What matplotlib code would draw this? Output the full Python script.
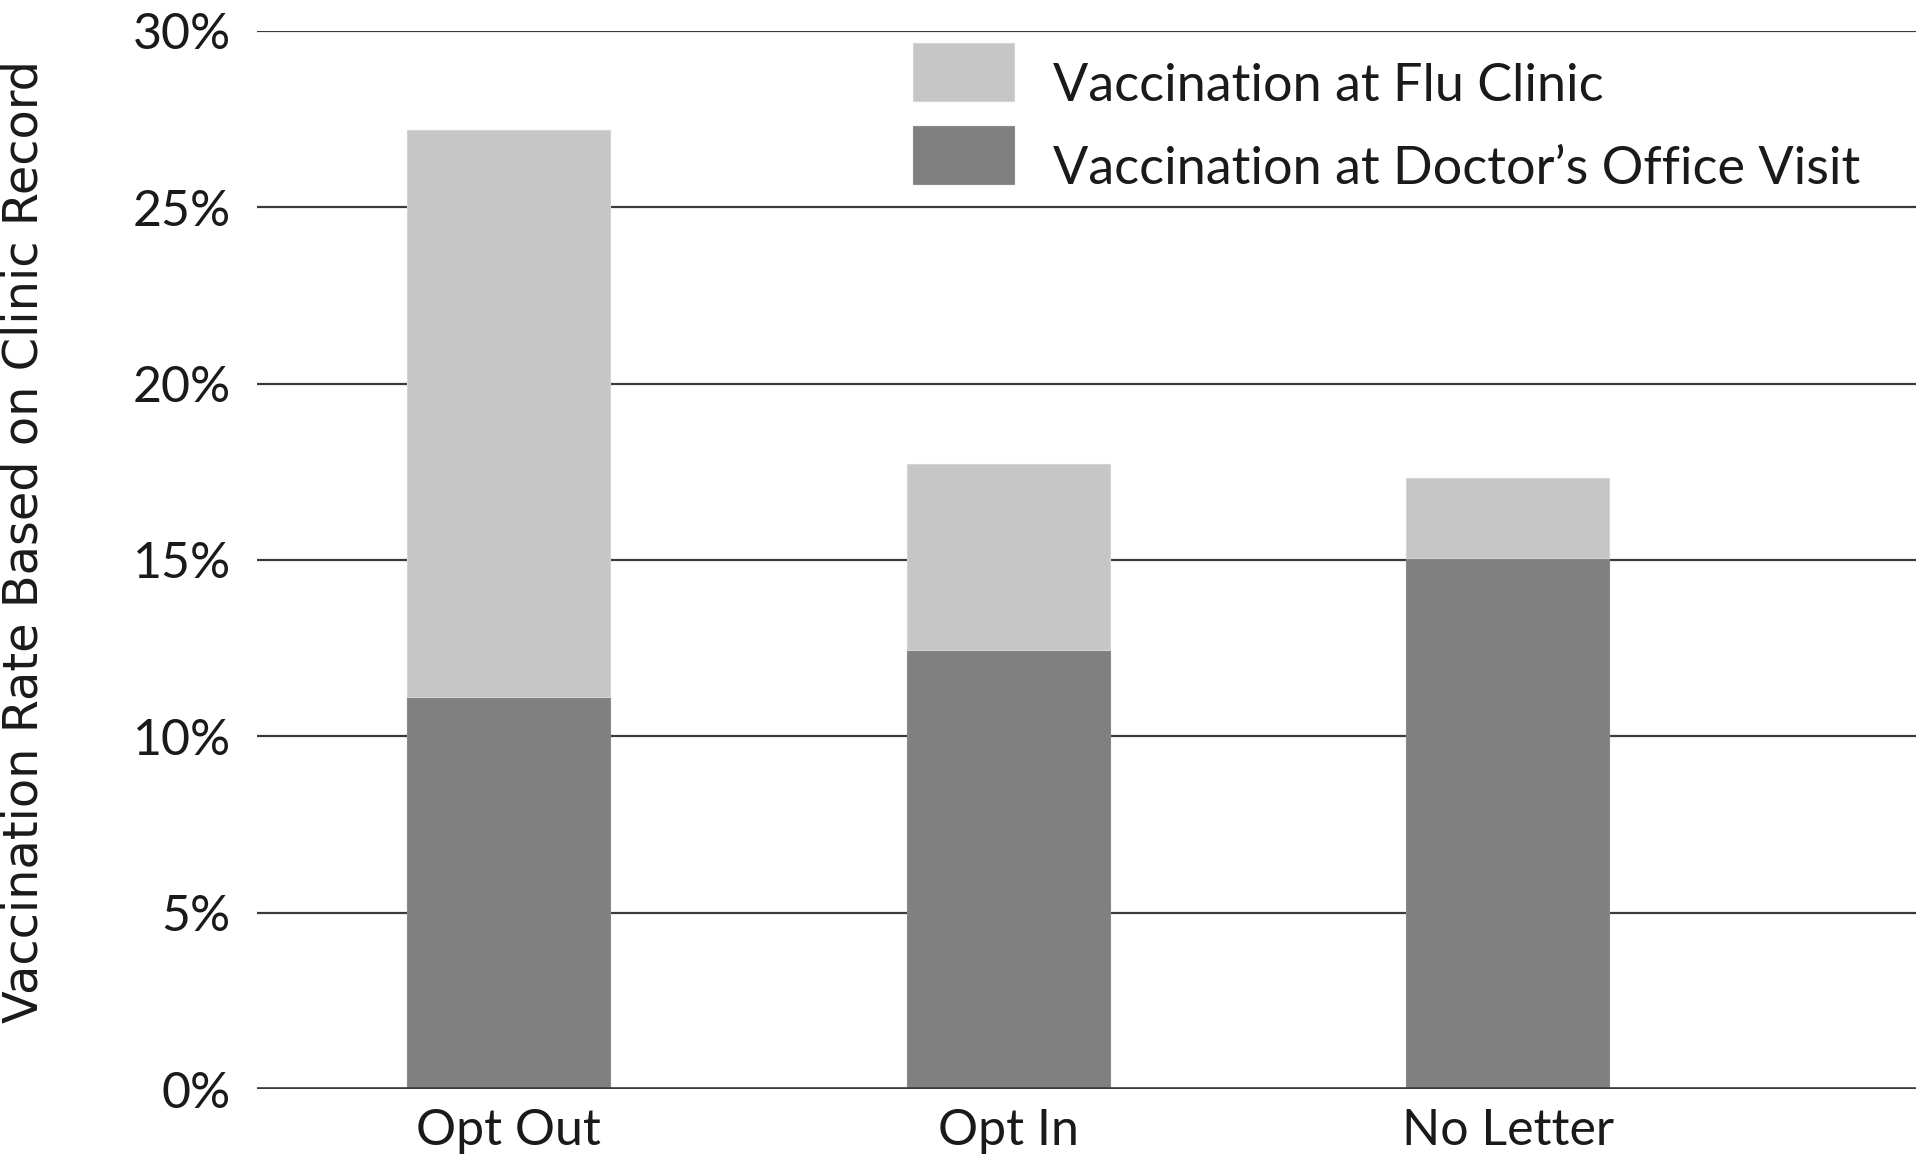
import matplotlib
matplotlib.use("Agg")
import matplotlib.pyplot as plt
from matplotlib.ticker import FuncFormatter
from matplotlib.patches import Rectangle
from matplotlib.container import BarContainer
from matplotlib.legend_handler import HandlerPatch

categories = ["Opt Out", "Opt In", "No Letter"]
doctor_office = [11.1, 12.45, 15.05]
flu_clinic = [16.1, 5.27, 2.27]
yticks = [0, 5, 10, 15, 20, 25, 30]

light = "#c6c6c6"
dark = "#808080"
grid_c = "#3a3a3a"
txt_c = "#1a1a1a"

plt.rcParams["font.family"] = ["Lato", "DejaVu Sans"]

fig = plt.figure(figsize=(19.2, 11.63), dpi=100)
ax = fig.add_axes([0.1339, 0.0636, 0.998 - 0.1339, 0.9735 - 0.0636])

x = list(range(len(categories)))
w = 0.406
ax.bar(x, doctor_office, width=w, color=dark, edgecolor="#8a8a8a", linewidth=0.8,
       label="Vaccination at Doctor\u2019s Office Visit", zorder=3)
ax.bar(x, flu_clinic, width=w, bottom=doctor_office, color=light, edgecolor="#d4d4d4",
       linewidth=0.8, label="Vaccination at Flu Clinic", zorder=3)

ax.set_xlim(-0.504, 2.818)
ax.set_ylim(0, 30)
ax.set_yticks(yticks)
ax.yaxis.set_major_formatter(FuncFormatter(lambda v, p: f"{int(v)}%"))
ax.yaxis.grid(True, color=grid_c, linewidth=1.6, zorder=0)
ax.set_axisbelow(True)
ax.axhline(0, color=grid_c, linewidth=2.6, zorder=4)
for s in ax.spines.values():
    s.set_visible(False)

ax.set_xticks(x)
ax.set_xticklabels(categories)
ax.tick_params(axis="y", length=0, pad=19, labelsize=36, labelcolor=txt_c)
ax.tick_params(axis="x", length=0, pad=14, labelsize=36, labelcolor=txt_c)

fig.text(0.0125, 0.534, "Vaccination Rate Based on Clinic Record", rotation=90,
         ha="center", va="center", fontsize=34.5, color=txt_c,
         family=["Liberation Sans Narrow", "DejaVu Sans Condensed", "DejaVu Sans"])


def baseline_patch(legend, orig_handle, xdescent, ydescent, width, height, fontsize):
    # patch bottom sits on the text baseline
    return Rectangle(xy=(-xdescent, 0), width=width, height=height)


def from_first_child(tgt, src):
    tgt.update_from(src.patches[0])


h, l = ax.get_legend_handles_labels()
leg = fig.legend(h[::-1], l[::-1], loc="upper left", bbox_to_anchor=(0.4755, 0.9531),
                 frameon=False, fontsize=37.5, handlelength=1.94, handleheight=1.33,
                 labelspacing=0.48, handletextpad=0.74, borderpad=0, borderaxespad=0,
                 handler_map={BarContainer: HandlerPatch(patch_func=baseline_patch,
                                                         update_func=from_first_child)})
for t in leg.get_texts():
    t.set_color(txt_c)

fig.savefig("out.png", dpi=100)
